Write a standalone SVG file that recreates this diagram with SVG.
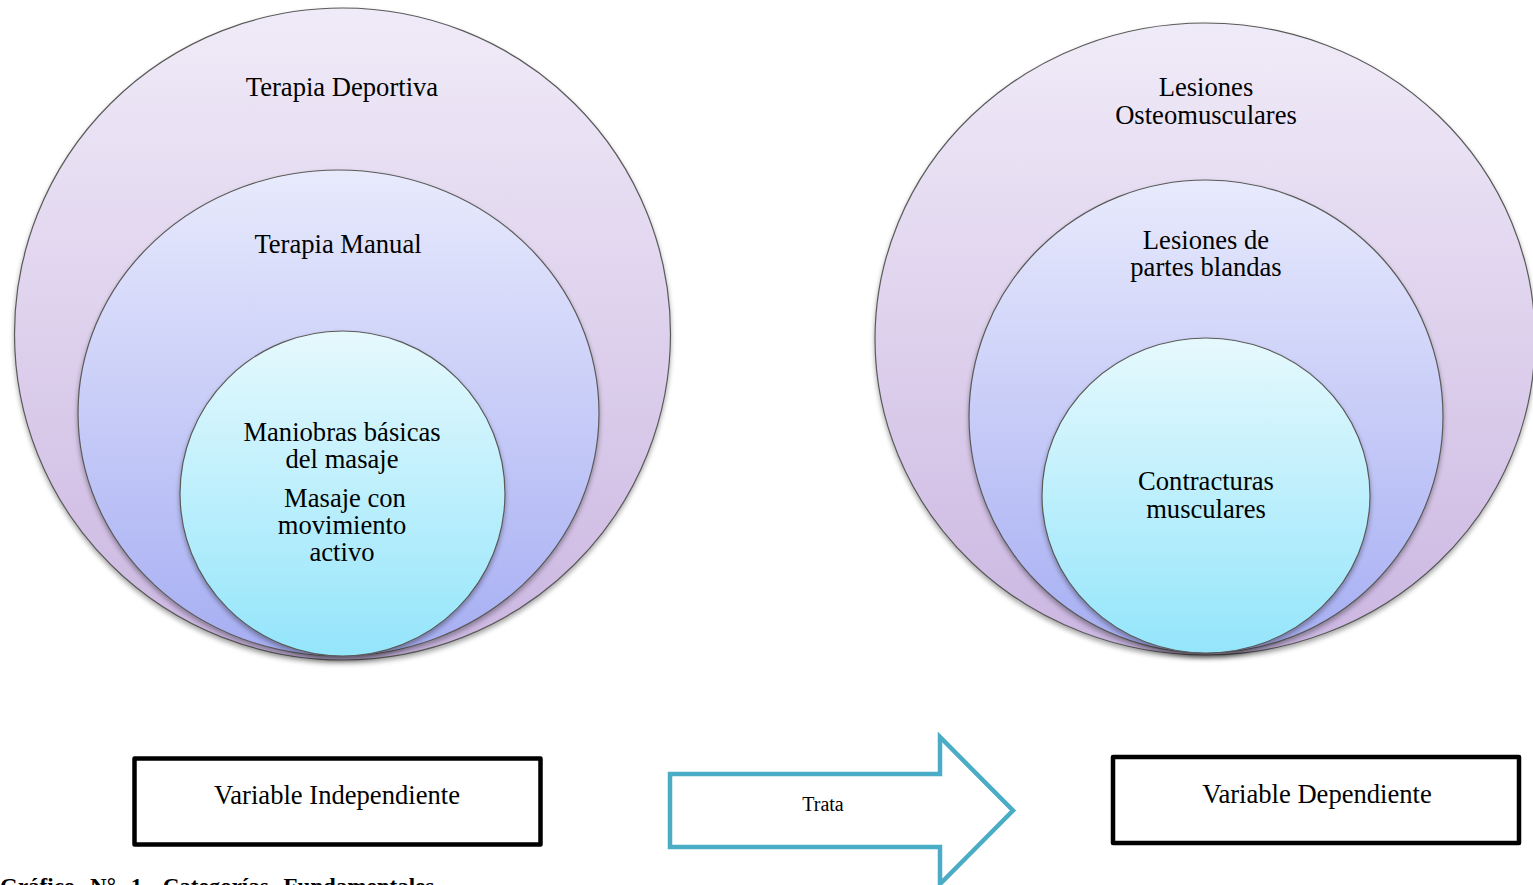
<svg xmlns="http://www.w3.org/2000/svg" width="1533" height="885" viewBox="0 0 1533 885">
<style>
.t{font-family:"Liberation Serif","Times New Roman",serif;font-size:26.6px;fill:#000;text-anchor:middle}
.c{stroke:#5a5a5a;stroke-width:1.2}
.box{fill:#fff;stroke:#000;stroke-width:4.5;stroke-linejoin:round}
</style>
<defs>
<linearGradient id="gOuter" x1="0" y1="0" x2="0" y2="1">
<stop offset="0" stop-color="#f0ebf8"/><stop offset="1" stop-color="#cbb6e1"/>
</linearGradient>
<linearGradient id="gMid" x1="0" y1="0" x2="0" y2="1">
<stop offset="0" stop-color="#e8eafc"/><stop offset="1" stop-color="#a6aef3"/>
</linearGradient>
<linearGradient id="gIn" x1="0" y1="0" x2="0" y2="1">
<stop offset="0" stop-color="#e6f9fd"/><stop offset="1" stop-color="#94e5fb"/>
</linearGradient>
<filter id="sh" x="-5%" y="-5%" width="110%" height="112%">
<feGaussianBlur in="SourceAlpha" stdDeviation="2.5"/>
<feOffset dy="3" result="b"/>
<feComponentTransfer><feFuncA type="linear" slope="0.35"/></feComponentTransfer>
<feMerge><feMergeNode/><feMergeNode in="SourceGraphic"/></feMerge>
</filter>
</defs>
<rect width="1533" height="885" fill="#fff"/>

<g id="terapia-deportiva">
<ellipse class="c" cx="342.5" cy="334" rx="328" ry="326" fill="url(#gOuter)" filter="url(#sh)"/>
<text class="t" x="342" y="96">Terapia Deportiva</text>
</g>
<g id="terapia-manual">
<ellipse class="c" cx="338.5" cy="413" rx="260.5" ry="243" fill="url(#gMid)" filter="url(#sh)"/>
<text class="t" x="338" y="253">Terapia Manual</text>
</g>
<g id="maniobras">
<ellipse class="c" cx="342.5" cy="493.5" rx="162.5" ry="162.5" fill="url(#gIn)" filter="url(#sh)"/>
<text class="t" x="342" y="441">Maniobras básicas</text>
<text class="t" x="342" y="468">del masaje</text>
<text class="t" x="345" y="507">Masaje con</text>
<text class="t" x="342" y="534">movimiento</text>
<text class="t" x="342" y="561">activo</text>
</g>

<g id="lesiones-osteomusculares">
<ellipse class="c" cx="1205" cy="339" rx="330" ry="316" fill="url(#gOuter)" filter="url(#sh)"/>
<text class="t" x="1206" y="96">Lesiones</text>
<text class="t" x="1206" y="124">Osteomusculares</text>
</g>
<g id="lesiones-partes-blandas">
<ellipse class="c" cx="1206" cy="416.5" rx="237" ry="236.5" fill="url(#gMid)" filter="url(#sh)"/>
<text class="t" x="1206" y="249">Lesiones de</text>
<text class="t" x="1206" y="276">partes blandas</text>
</g>
<g id="contracturas">
<ellipse class="c" cx="1206" cy="495.5" rx="164" ry="157.5" fill="url(#gIn)" filter="url(#sh)"/>
<text class="t" x="1206" y="490">Contracturas</text>
<text class="t" x="1206" y="518">musculares</text>
</g>

<g id="variable-independiente">
<rect class="box" x="134.5" y="758.5" width="406" height="86"/>
<text class="t" x="337" y="804">Variable Independiente</text>
</g>
<g id="variable-dependiente">
<rect class="box" x="1113" y="757" width="406" height="86"/>
<text class="t" x="1317" y="803">Variable Dependiente</text>
</g>

<g id="connectors">
<g id="trata-arrow">
<polygon points="670,774 940,774 940,737 1013,810.5 940,884 940,847 670,847" fill="#fff" stroke="#4bacc6" stroke-width="4.5" stroke-linejoin="miter"/>
<text x="823" y="811" font-family="'Liberation Serif','Times New Roman',serif" font-size="20" text-anchor="middle" fill="#000">Trata</text>
</g>
</g>

<text x="0" y="894" font-family="'Liberation Serif','Times New Roman',serif" font-size="23" font-weight="bold" word-spacing="9" fill="#000">Gráfico N° 1. Categorías Fundamentales</text>
</svg>
